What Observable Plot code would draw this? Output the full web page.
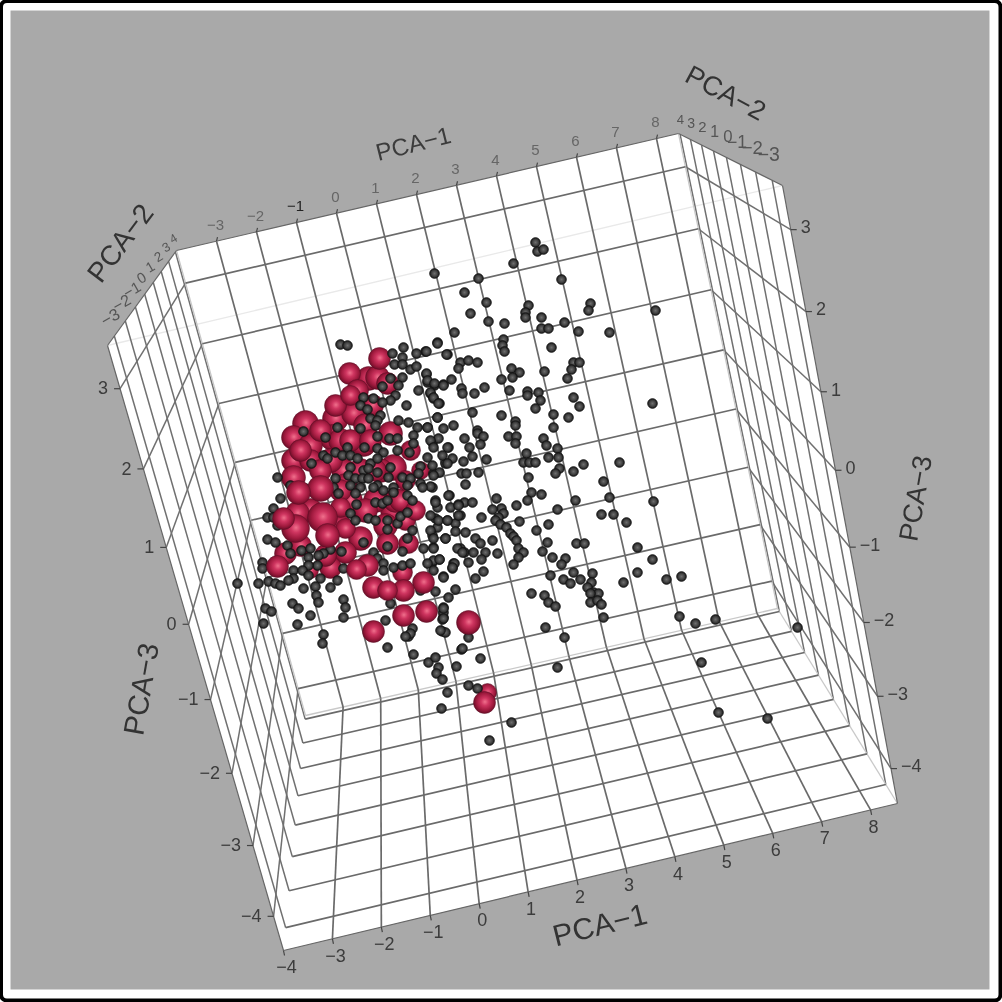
<!DOCTYPE html>
<html>
<head>
<meta charset="utf-8">
<script src="https://cdn.jsdelivr.net/npm/d3@7"></script>
<script src="https://cdn.jsdelivr.net/npm/@observablehq/plot@0.6"></script>
<style>
html,body{margin:0;padding:0;background:#fff;}
svg{display:block;filter:blur(0.45px);}
</style>
</head>
<body>
<div id="chart"></div>
<script>
// PCA tick values and box extents
const pca1Ticks = [-3,-2,-1,0,1,2,3,4,5,6,7,8];
const pca2Ticks = [-3,-2,-1,0,1,2,3,4];
const pca3Ticks = [-4,-3,-2,-1,0,1,2,3];
const pca1Range = [-4, 8.55];
const pca2Range = [-3.58, 4.16];
const pca3Range = [-4.49, 3.53];

// Where the eight box corners fall in the picture plane: key = pca1 pca2 pca3 (0 low, 1 high)
const boxCorners = {
  "000":[283,950], "100":[897,803], "010":[305,715], "110":[777,608],
  "001":[107,345], "101":[782,185], "011":[176,250], "111":[678,133]
};
const depthPca2 = 0.33, depthPca3 = -0.08;

const grayPoints = [
[535,242],[537,251],[543,249],[513,263],[434,273],[478,278],[561,279],[464,292],[486,302],[590,303],[588,310],[528,305],[525,312],[525,317],[541,317],[470,313],[488,321],[504,323],[564,322],[655,310],[541,328],[548,328],[578,331],[609,332],[454,332],[437,342],[503,339],[502,345],[504,351],[551,347],[425,351],[447,354],[460,362],[468,360],[477,362],[458,368],[573,362],[579,362],[571,369],[567,378],[544,371],[511,368],[519,372],[512,377],[501,379],[652,403],[426,374],[451,379],[443,384],[434,385],[427,382],[461,388],[462,393],[484,387],[474,393],[509,390],[527,391],[527,395],[538,392],[540,400],[573,397],[579,406],[535,408],[472,412],[553,414],[568,417],[501,415],[515,421],[437,417],[430,393],[433,398],[439,403],[453,425],[443,428],[427,427],[553,427],[477,430],
[432,442],[464,438],[477,433],[483,436],[469,447],[480,444],[472,456],[448,447],[463,461],[452,458],[445,463],[486,459],[508,436],[515,425],[516,436],[515,443],[543,438],[546,445],[548,457],[557,448],[558,457],[526,453],[523,462],[529,462],[535,462],[619,462],[583,464],[573,471],[559,468],[555,473],[528,477],[603,481],[461,473],[466,473],[478,472],[433,473],[439,472],[465,484],[432,487],[531,492],[541,494],[527,500],[575,500],[609,497],[653,501],[449,495],[435,500],[496,498],[464,502],[472,502],[458,504],[450,507],[437,507],[516,505],[501,508],[492,509],[557,509],[601,514],[613,514],[626,522],[503,513],[498,517],[519,521],[481,517],[495,520],[500,524],[506,527],[548,524],[536,530],[460,515],[447,520],[435,518],[455,523],[437,527],[455,531],[465,532],[510,533],[513,536],[516,540],[432,535],[445,538],[547,542],[475,538],[480,543],[492,540],[576,543],[584,543],[637,547],[433,547],[460,548],[518,548],[523,552],[464,552],[473,552],[485,552],[497,553],[542,551],[518,557],[481,559],[439,559],[565,558],[552,557],[561,564],[652,559],[513,564],[468,562],[453,563],[432,562],[452,568],[637,572],[573,572],[592,573],[550,575],[681,576],[666,579],[483,571],[443,576],[563,579],[570,583],[580,579],[475,578],[623,582],[591,582],[587,587],[593,592],[598,593],[590,593],[590,602],[597,600],[601,604],[455,589],[435,591],[531,593],[544,595],[548,602],[555,606],[448,597],[443,607],[443,617],[603,617],[679,616],
[443,612],[442,619],[442,631],[445,632],[468,637],[412,628],[408,636],[413,654],[461,649],[428,662],[435,657],[438,667],[436,673],[442,679],[456,666],[480,658],[468,685],[477,688],[447,692],[441,708],[511,722],[489,740],[545,627],[564,637],[557,667],[695,623],[715,619],[797,627],[701,662],[718,712],[767,718],
[340,344],[347,345],[392,353],[403,347],[402,357],[416,353],[426,351],[437,343],[446,354],[394,364],[402,364],[410,369],[416,366],[426,373],[427,380],[434,383],[418,390],[430,392],[443,385],[433,397],[438,403],[390,378],[402,377],[398,385],[382,386],[395,395],[390,400],[382,402],[373,398],[363,397],[360,405],[367,409],[406,405],[437,417],[380,415],[398,420],[370,418],[377,420],[375,425],[360,428],[337,427],[303,431],[325,437],[408,422],[417,427],[427,427],[413,435],[438,438],[430,440],[377,436],[389,438],[397,438],[413,443],[433,447],[447,447],[364,447],[377,448],[383,452],[397,450],[409,452],[427,457],[442,455],[347,447],[335,452],[323,455],[327,458],[342,455],[350,455],[357,458],[370,463],[377,458],[390,467],[420,466],[432,465],[447,463],[311,463],[350,467],[363,470],[348,475],[355,478],[362,478],[368,468],[368,478],[377,472],[388,477],[402,477],[410,478],[418,473],[433,475],[335,478],[277,477],[290,485],[305,488],[333,487],[350,485],[377,485],[360,487],[393,487],[407,485],[420,483],[430,486],
[338,493],[355,493],[356,504],[373,487],[375,502],[383,490],[382,503],[393,492],[387,500],[407,495],[412,500],[422,487],[448,495],[435,502],[458,505],[350,513],[355,520],[368,518],[375,520],[387,520],[397,523],[400,516],[407,512],[430,515],[438,520],[447,520],[458,515],[280,498],[273,508],[267,517],[273,517],[277,525],[412,530],[430,530],[387,529],[433,538],[445,538],[407,538],[457,548],[462,552],[267,539],[275,542],[287,545],[363,542],[387,546],[423,548],[433,548],[402,551],[290,553],[301,550],[310,548],[330,549],[341,551],[323,553],[373,552],[308,557],[318,555],[317,565],[308,565],[377,558],[383,563],[433,560],[439,559],[427,563],[393,567],[402,565],[410,563],[383,570],[454,563],[452,567],[262,562],[262,568],[293,570],[302,570],[308,575],[343,568],[433,570],[320,578],[293,578],[268,581],[275,583],[280,585],[288,580],[337,580],[237,583],[258,583],[303,588],[315,586],[330,587],[443,577],[420,590],[316,595],[318,602],[343,599],[345,607],[292,603],[298,608],[310,615],[265,608],[271,611],[263,623],[297,624],[343,617],[390,603],[385,620],[443,608],[443,618],[440,630],[410,633],[405,636],[323,634],[322,643],[462,648],[387,647]
];
const redBack = [
[379,358,11],[349,373,11],[368,378,12],[377,377,12],[387,383,11],[357,390,11],[335,405,11],[335,418,13],[353,413,12],[305,423,13],[293,437,12],[310,445,12],[332,437,13],[293,460,12],[293,477,12],[363,443,13],[393,467,13],[390,433,12],[343,470,12],[380,470,12],[320,430,11],[350,440,11],[370,440,11],[410,450,10],[310,460,11],[345,485,12],[375,470,11],[405,480,10],[395,500,12],[375,500,12],[393,510,13],[310,510,12],[340,507,10],[297,513,12],[345,528,10],[340,525,11],[360,538,12],[387,543,11],[408,543,10],[405,520,10],[345,552,11],[330,567,11],[285,553,11],[310,570,8],[402,572,10],[487,692,9],[300,450,11],
[365,425,12],[350,395,10],[372,405,11],[340,440,12],[330,460,12],[360,470,12],[350,500,12],[365,510,12],[385,525,12],[415,510,10],[400,500,11],[325,555,11],[300,545,11],[340,490,11],[420,470,9],[320,470,11]
];
const redFront = [
[298,492,12],[320,488,13],[283,518,11],[295,528,14],[327,535,12],[322,517,15],[277,566,11],[356,569,10],[367,565,11],[387,590,10],[373,587,11],[423,582,11],[403,590,11],[403,615,11],[426,611,11],[373,631,11],[468,622,12],[484,702,11]
];

// perspective map: PCA values to picture plane
function project(p1, p2, p3) {
  const u = (p1 - pca1Range[0]) / (pca1Range[1] - pca1Range[0]);
  const v = (p2 - pca2Range[0]) / (pca2Range[1] - pca2Range[0]);
  const t = (p3 - pca3Range[0]) / (pca3Range[1] - pca3Range[0]);
  let hx = 0, hy = 0, hw = 0;
  for (const i of [0,1]) for (const j of [0,1]) for (const k of [0,1]) {
    const b = (i ? u : 1-u) * (j ? v : 1-v) * (k ? t : 1-t);
    const w = (1 + depthPca2 * j + depthPca3 * k) * b;
    const c = boxCorners[`${i}${j}${k}`];
    hx += c[0] * w; hy += c[1] * w; hw += w;
  }
  return [hx / hw, hy / hw];
}
const [x0, x1] = pca1Range, [y0, y1] = pca2Range, [z0, z1] = pca3Range;
const seg = (a, b, kind) => {
  const s = project(...a), e = project(...b);
  return {x1: s[0], y1: s[1], x2: e[0], y2: e[1], kind};
};

const grid = [];
for (const x of pca1Ticks) {
  grid.push(seg([x,y1,z0],[x,y1,z1],"back"));
  grid.push(seg([x,y0,z0],[x,y1,z0],"back"));
}
for (const z of pca3Ticks) {
  grid.push(seg([x0,y1,z],[x1,y1,z],"back"));
  grid.push(seg([x0,y0,z],[x0,y1,z],"side"));
  grid.push(seg([x1,y0,z],[x1,y1,z],"side"));
}
for (const y of pca2Ticks) {
  grid.push(seg([x0,y,z0],[x1,y,z0],"back"));
  grid.push(seg([x0,y,z0],[x0,y,z1],"side"));
  grid.push(seg([x1,y,z0],[x1,y,z1],"side"));
}
const lightEdges = [
  seg([x0,y1,z0],[x1,y1,z0]), seg([x1,y1,z0],[x1,y0,z0]), seg([x0,y1,z0],[x0,y1,z1]), seg([x1,y1,z0],[x1,y1,z1])
];
const fainterEdges = [seg([x0,y0,z1],[x1,y0,z1])];
const outerEdges = [
  seg([x0,y0,z1],[x0,y1,z1]), seg([x0,y1,z1],[x1,y1,z1]), seg([x1,y1,z1],[x1,y0,z1]),
  seg([x1,y0,z1],[x1,y0,z0]), seg([x1,y0,z0],[x0,y0,z0]), seg([x0,y0,z0],[x0,y0,z1])
];
const hull = [[x0,y0,z1],[x0,y1,z1],[x1,y1,z1],[x1,y0,z1],[x1,y0,z0],[x0,y0,z0],[x0,y0,z1]].map(p => project(...p));

const minus = s => String(s).replace("-", "\u2212");
const lab = (text, pos, extra) => ({text: minus(text), x: pos[0], y: pos[1], ...extra});
const topLabels = pca1Ticks.map(v => lab(v, project(v,y1,z1)));
const bottomLabels = [-4, ...pca1Ticks].map(v => lab(v, project(v,y0,z0)));
const leftZLabels = pca3Ticks.map(v => lab(v, project(x0,y0,v)));
const rightZLabels = pca3Ticks.map(v => lab(v, project(x1,y0,v)));
// PCA-2 labels grow and drift towards the viewer
const nearness = v => (y1 - v) / (y1 - y0);
const leftYLabels = pca2Ticks.map(v => {
  const p = project(x0,v,z1), n = nearness(v);
  return lab(v, [p[0] - 2 - 2 * n, p[1] - 13 - 6 * n], {size: 12 + 5 * n});
});
const rightYLabels = pca2Ticks.map(v => {
  const p = project(x1,v,z1), n = nearness(v);
  return lab(v, [p[0] + 4 * n, p[1] - 14 - 12 * n], {size: 13 + 7 * n});
});

const xy = p => ({x: p[0], y: p[1]});
const tickTop = pca1Ticks.map(v => xy(project(v,y1,z1)));
const tickBottom = [-4, ...pca1Ticks].map(v => xy(project(v,y0,z0)));
const tickLeft = pca3Ticks.map(v => xy(project(x0,y0,v)));
const tickRight = pca3Ticks.map(v => xy(project(x1,y0,v)));

const titleFont = "Liberation Sans, Arial, sans-serif";
const axisTitles = [
  {t:"PCA\u22121", p:project(2.45,y1,z1), dx:-21, dy:-46, size:24, rot:-14, c:"#3c3c3c"},
  {t:"PCA\u22121", p:project(3.0,y0,z0), dx:-26, dy:57, size:30, rot:-14, c:"#333"},
  {t:"PCA\u22122", p:project(x0,0,z1), dx:-24, dy:-51, size:28, rot:-53, c:"#333"},
  {t:"PCA\u22122", p:project(x1,0,z1), dx:-1, dy:-64, size:27, rot:28, c:"#333"},
  {t:"PCA\u22123", p:project(x0,y0,-0.7), dx:-62, dy:12, size:29, rot:-80, c:"#333"},
  {t:"PCA\u22123", p:project(x1,y0,0.1), dx:82, dy:36, size:27, rot:-80, c:"#333"}
];

const defs = () => {
  const svg = d3.create("svg:defs");
  const add = (id, stops, cx, cy) => {
    const g = svg.append("radialGradient").attr("id", id).attr("cx", cx).attr("cy", cy).attr("r", "0.55");
    stops.forEach(([o, c]) => g.append("stop").attr("offset", o).attr("stop-color", c));
  };
  add("sphereRed", [["0%","#f0708c"],["32%","#cf3560"],["70%","#a01a3e"],["100%","#640c24"]], "0.52", "0.47");
  add("sphereGray", [["0%","#6e6e6e"],["45%","#4a4a4a"],["100%","#161616"]], "0.5", "0.5");
  return svg.node();
};

const tickMark = (data, dx, dy) => Plot.link(data, {
  x1: "x", y1: "y", x2: d => d.x + dx, y2: d => d.y + dy, stroke: "#444", strokeWidth: 1.2
});
const labelMark = (data, o) => Plot.text(data, {
  x: "x", y: "y", text: "text", fontFamily: titleFont, ...o
});
const linkOf = {x1:"x1",y1:"y1",x2:"x2",y2:"y2"};

const chart = Plot.plot({
  width: 1002, height: 1002,
  margin: 0,
  x: {domain: [0, 1002], range: [0, 1002], axis: null},
  y: {domain: [0, 1002], range: [0, 1002], axis: null},
  r: {type: "identity"},
  style: {background: "#fff"},
  marks: [
    defs,
    Plot.frame({fill: "#a9a9a9", stroke: "none", insetLeft: 10, insetTop: 10, insetRight: 13, insetBottom: 13}),
    Plot.line(hull, {x: d => d[0], y: d => d[1], fill: "#fff", stroke: "none"}),
    Plot.link(fainterEdges, {...linkOf, stroke:"#e9e9e9", strokeWidth:1.3}),
    Plot.link(grid.filter(d => d.kind === "side"), {...linkOf, stroke:"#707070", strokeWidth:1.5}),
    Plot.link(lightEdges, {...linkOf, stroke:"#c9c9c9", strokeWidth:1.3}),
    Plot.link(grid.filter(d => d.kind === "back"), {...linkOf, stroke:"#6a6a6a", strokeWidth:1.7}),
    Plot.link(outerEdges, {...linkOf, stroke:"#666", strokeWidth:1.2}),
    tickMark(tickTop, 1, -4),
    tickMark(tickBottom, 1, 5),
    tickMark(tickLeft, -6, 0),
    tickMark(tickRight, 6, 0),
    labelMark(topLabels.filter(d => d.text !== "\u22121"), {dx: -1, dy: -16, fontSize: 15, fill: "#666"}),
    labelMark(topLabels.filter(d => d.text === "\u22121"), {dx: -1, dy: -16, fontSize: 15, fill: "#222"}),
    labelMark(bottomLabels, {dx: 3, dy: 17, fontSize: 18, fill: "#3c3c3c"}),
    labelMark(leftZLabels, {dx: -12, dy: 0, fontSize: 18, textAnchor: "end", fill: "#3c3c3c"}),
    labelMark(rightZLabels, {dx: 10, dy: -2, fontSize: 18, textAnchor: "start", fill: "#3c3c3c"}),
    labelMark(leftYLabels, {fontSize: "size", rotate: -30, fill: "#555"}),
    labelMark(rightYLabels, {dx: 4, fontSize: "size", textAnchor: "end", fill: "#555"}),
    ...axisTitles.map(a => Plot.text([a], {
      x: d => d.p[0], y: d => d.p[1], text: "t", dx: a.dx, dy: a.dy,
      fontSize: a.size, rotate: a.rot, fill: a.c, fontFamily: titleFont
    })),
    Plot.dot(redBack, {x: d => d[0], y: d => d[1], r: d => d[2], fill: "url(#sphereRed)", stroke: "#5e0c24", strokeWidth: 0.5}),
    Plot.dot(grayPoints, {x: d => d[0], y: d => d[1], r: 4.8, fill: "url(#sphereGray)", stroke: "#111", strokeWidth: 0.9}),
    Plot.dot(redFront, {x: d => d[0], y: d => d[1], r: d => d[2], fill: "url(#sphereRed)", stroke: "#5e0c24", strokeWidth: 0.5}),
    Plot.frame({stroke: "#000", strokeWidth: 4, rx: 6, insetLeft: 0.5, insetTop: 0.5, insetRight: 2, insetBottom: 2})
  ]
});
document.getElementById("chart").appendChild(chart);
</script>
</body>
</html>
